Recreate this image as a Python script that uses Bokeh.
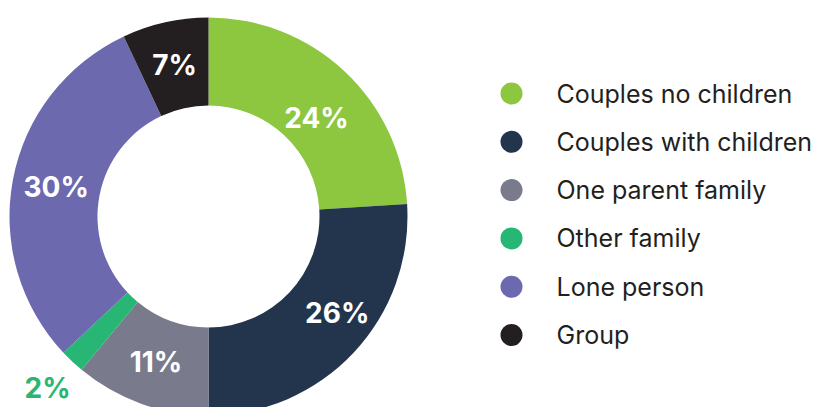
import math
from bokeh.plotting import figure
from bokeh.models import Range1d
from bokeh.core.properties import value
from bokeh.embed import file_html
from bokeh.resources import INLINE

categories = ["Couples no children", "Couples with children", "One parent family",
              "Other family", "Lone person", "Group"]
shares = [24, 26, 11, 2, 30, 7]
labels = ["24%", "26%", "11%", "2%", "30%", "7%"]
colors = ["#8DC63F", "#22354D", "#797A8C", "#27B673", "#6C69AF", "#231F20"]

W, H = 819, 407
p = figure(width=W, height=H, output_backend="svg", toolbar_location=None,
           x_range=Range1d(0, W), y_range=Range1d(0, H), min_border=0)
p.axis.visible = False
p.grid.visible = False
p.outline_line_color = None
p.background_fill_color = "white"

cx, cy = 208, H - 216
r_in, r_out = 111, 199
total = float(sum(shares))

starts, ends, mids = [], [], []
cum = 0.0
for s in shares:
    a0 = cum / total * 2 * math.pi
    cum += s
    a1 = cum / total * 2 * math.pi
    starts.append(math.pi / 2 - a0)
    ends.append(math.pi / 2 - a1)
    mids.append((a0 + a1) / 2)

p.annular_wedge(x=[cx] * len(shares), y=[cy] * len(shares), inner_radius=r_in,
                outer_radius=r_out, start_angle=starts, end_angle=ends,
                direction="clock", fill_color=colors, line_color=None)

# label placement: mid-angle of the slice, with small designer nudges
nudge = {0: (4.3, -8.5), 1: (-6.3, 6.0)}  # (degrees, radius px)
lx, ly, lc = [], [], []
for i, m in enumerate(mids):
    rr = (r_in + r_out) / 2 if shares[i] >= 5 else r_out + 36
    da, dr = nudge.get(i, (0.0, 0.0))
    mm = m + math.radians(da)
    rr += dr
    lx.append(cx + rr * math.sin(mm))
    ly.append(cy + rr * math.cos(mm))
    lc.append("white" if shares[i] >= 5 else colors[i])

p.text(x=lx, y=ly, text=labels, text_color=lc, text_align="center",
       text_baseline="middle", text_font=value("Inter"), text_font_style="bold",
       text_font_size="28px")

# legend
leg_x = 511
leg_y0 = H - 93
step = 48.3
ys = [leg_y0 - i * step for i in range(len(categories))]
p.scatter(x=[leg_x] * len(categories), y=ys, size=22, marker="circle",
          fill_color=colors, line_color=None)
p.text(x=[leg_x + 45] * len(categories), y=ys, text=categories,
       text_color="#231F20", text_align="left", text_baseline="middle",
       text_font=value("Inter"), text_font_size="25px")

open("out.html", "w").write(file_html(p, INLINE))
